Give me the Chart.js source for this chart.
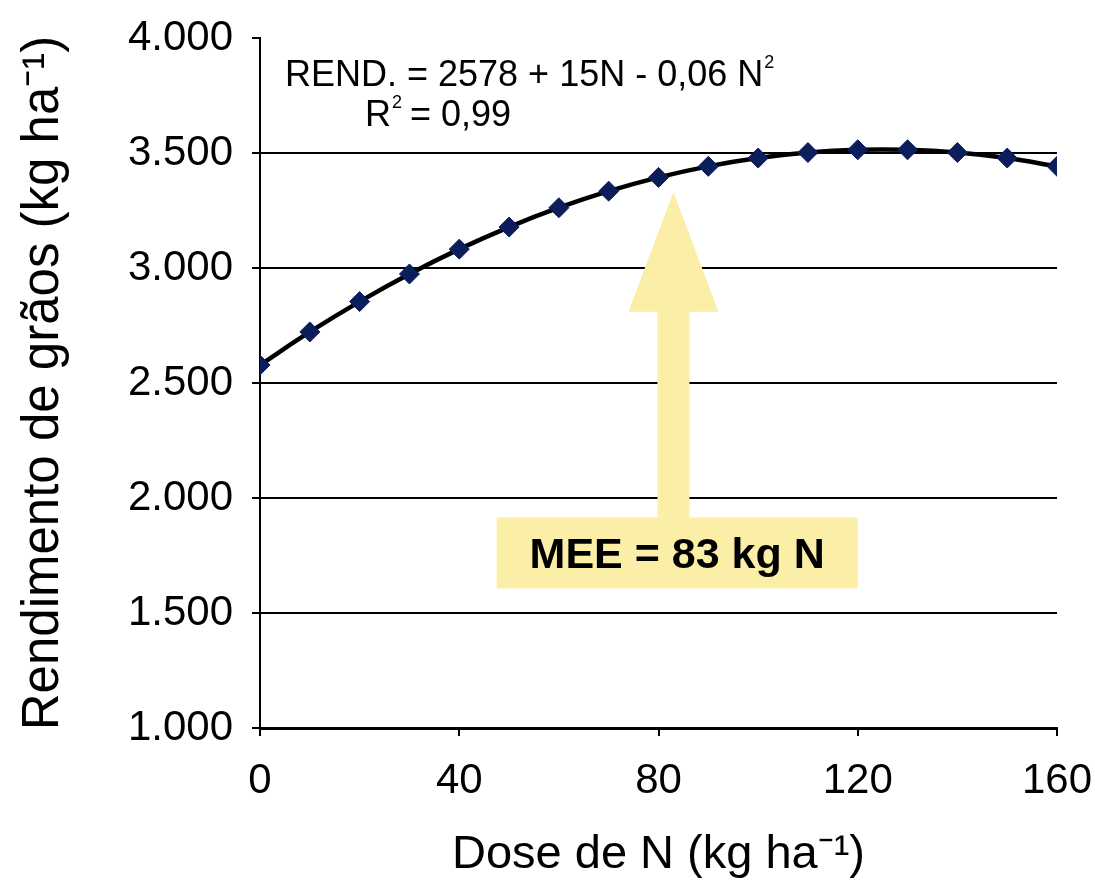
<!DOCTYPE html>
<html>
<head>
<meta charset="utf-8">
<script src="https://cdn.jsdelivr.net/npm/chart.js@4/dist/chart.umd.min.js"></script>
<style>
  html, body { margin: 0; background: #fff; }
  #chart { display: block; }
</style>
</head>
<body>
<canvas id="chart" width="1095" height="880"></canvas>
<script>
// doses de N (kg/ha) e rendimento de grãos (kg/ha)
const doses = [0, 10, 20, 30, 40, 50, 60, 70, 80, 90, 100, 110, 120, 130, 140, 150, 160];
const rendimento = [2578, 2722, 2854, 2974, 3082, 3178, 3262, 3334, 3394, 3442, 3478, 3502, 3514, 3514, 3502, 3478, 3442];
const xTicks = [0, 40, 80, 120, 160];
const yTicks = [1000, 1500, 2000, 2500, 3000, 3500, 4000];
const mee = 83;

const fonte = '"Liberation Sans", Arial, sans-serif';
const amarelo = '#FBEEA6';

// 4000 -> "4.000"
function milhar(v) {
  return String(v).replace(/\B(?=(\d{3})+(?!\d))/g, '.');
}

// seta amarela com a caixa da MEE, desenhada atrás da curva
const setaMee = {
  id: 'setaMee',
  beforeDatasetsDraw(chart) {
    const { ctx, scales: { x, y } } = chart;
    const cx = x.getPixelForValue(mee);
    const ponta = y.getPixelForValue(3330);
    const base = y.getPixelForValue(2810);
    const topoCaixa = y.getPixelForValue(1915);
    const fundoCaixa = y.getPixelForValue(1607);
    const x1 = x.getPixelForValue(47.5);
    const x2 = x.getPixelForValue(120);

    ctx.save();
    ctx.fillStyle = amarelo;
    ctx.beginPath();
    ctx.moveTo(cx, ponta);
    ctx.lineTo(cx + 45, base);
    ctx.lineTo(cx + 16, base);
    ctx.lineTo(cx + 16, topoCaixa);
    ctx.lineTo(cx - 16, topoCaixa);
    ctx.lineTo(cx - 16, base);
    ctx.lineTo(cx - 45, base);
    ctx.closePath();
    ctx.fill();
    ctx.fillRect(x1, topoCaixa, x2 - x1, fundoCaixa - topoCaixa);

    ctx.fillStyle = '#000';
    ctx.font = 'bold 43px ' + fonte;
    ctx.textAlign = 'center';
    ctx.textBaseline = 'middle';
    ctx.fillText('MEE = ' + mee + ' kg N', (x1 + x2) / 2, (topoCaixa + fundoCaixa) / 2 + 3);
    ctx.restore();
  },
  afterDraw(chart) {
    const { ctx } = chart;
    ctx.save();
    ctx.fillStyle = '#000';
    ctx.textBaseline = 'alphabetic';
    ctx.textAlign = 'left';

    // equação de regressão
    ctx.font = '36px ' + fonte;
    const eq = 'REND. = 2578 + 15N - 0,06 N';
    ctx.fillText(eq, 285, 86);
    const w1 = ctx.measureText(eq).width;
    ctx.font = '18px ' + fonte;
    ctx.fillText('2', 285 + w1 + 1, 68);

    ctx.font = '36px ' + fonte;
    ctx.fillText('R', 365, 126);
    const wr = ctx.measureText('R').width;
    ctx.font = '18px ' + fonte;
    ctx.fillText('2', 365 + wr + 1, 108);
    ctx.font = '36px ' + fonte;
    ctx.fillText(' = 0,99', 365 + wr + 9, 126);
    ctx.restore();
  }
};

new Chart(document.getElementById('chart'), {
  type: 'line',
  data: {
    datasets: [{
      data: doses.map((d, i) => ({ x: d, y: rendimento[i] })),
      borderColor: '#000',
      borderWidth: 4.5,
      tension: 0.4,
      pointStyle: 'rectRot',
      pointRadius: 10,
      pointBackgroundColor: '#0B1E5B',
      pointBorderColor: '#0B1E5B',
      pointBorderWidth: 1
    }]
  },
  options: {
    responsive: false,
    animation: false,
    devicePixelRatio: 1,
    layout: { padding: { top: 38, right: 38, left: 0, bottom: 0 } },
    plugins: { legend: { display: false }, tooltip: { enabled: false } },
    scales: {
      x: {
        type: 'linear',
        min: 0,
        max: 160,
        afterBuildTicks: s => { s.ticks = xTicks.map(v => ({ value: v })); },
        afterFit: s => { s.height = 152; s.paddingLeft = 0; s.paddingRight = 0; },
        ticks: { color: '#000', font: { family: fonte, size: 42 }, padding: 20 },
        grid: { drawOnChartArea: false, tickLength: 8, color: '#000', lineWidth: 2 },
        border: { color: '#000', width: 3 },
        title: {
          display: true,
          text: 'Dose de N (kg ha⁻¹)',
          color: '#000',
          font: { family: fonte, size: 47, lineHeight: 1 },
          padding: { top: 0, bottom: 1 }
        }
      },
      y: {
        min: 1000,
        max: 4000,
        afterBuildTicks: s => { s.ticks = yTicks.map(v => ({ value: v })); },
        afterFit: s => { s.width = 260; s.paddingTop = 0; s.paddingBottom = 0; },
        ticks: { color: '#000', font: { family: fonte, size: 42 }, padding: 19, callback: v => milhar(v) },
        grid: {
          color: c => (c.tick && c.tick.value === 4000 ? 'rgba(0,0,0,0)' : '#000'),
          tickColor: '#000',
          lineWidth: 2,
          tickLength: 8
        },
        border: { color: '#000', width: 2 },
        title: {
          display: true,
          text: 'Rendimento de grãos (kg ha⁻¹)',
          color: '#000',
          font: { family: fonte, size: 51, lineHeight: 1 },
          padding: { top: 18, bottom: 0 }
        }
      }
    }
  },
  plugins: [setaMee]
});
</script>
</body>
</html>
